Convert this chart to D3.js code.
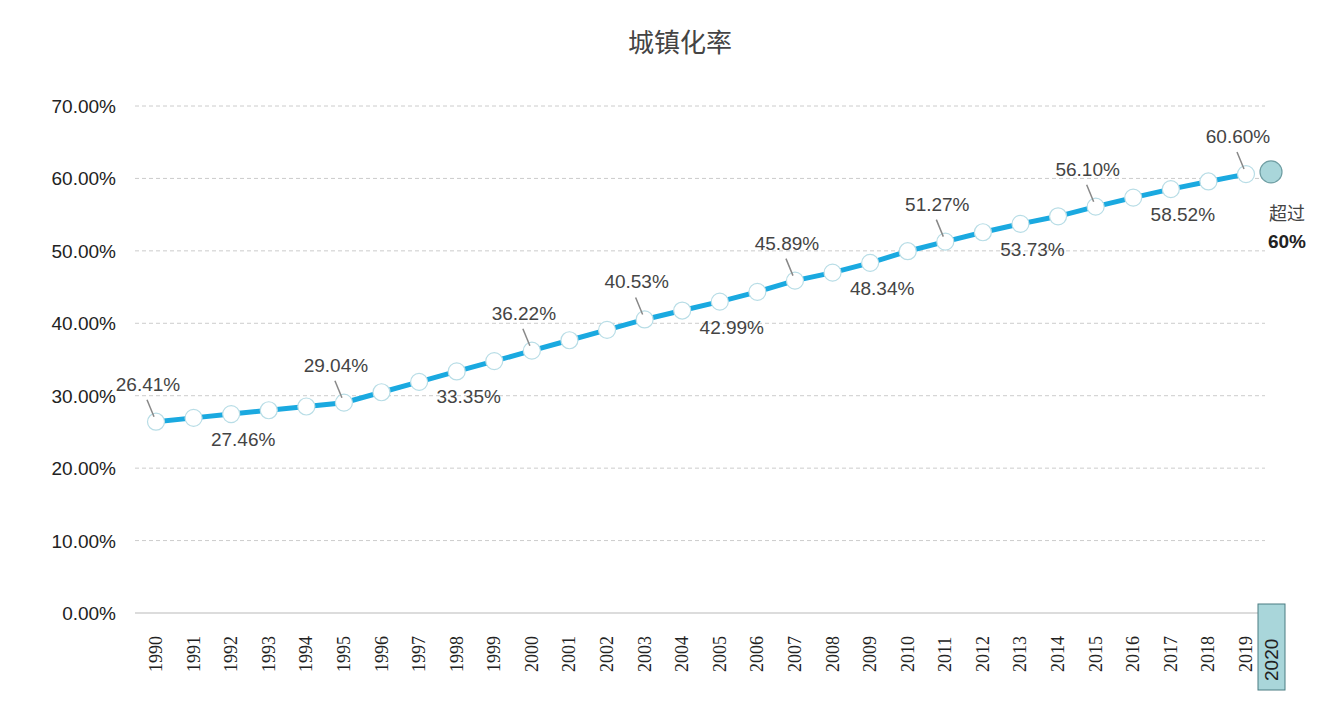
<!DOCTYPE html>
<html><head><meta charset="utf-8">
<script src="https://cdn.jsdelivr.net/npm/d3@7"></script>
<style>body{margin:0;background:#fff}</style>
</head><body><div id="chart"></div>
<script>
const years = d3.range(1990, 2020).map(String);
const rates = [26.41,26.94,27.46,27.99,28.51,29.04,30.48,31.91,33.35,34.78,36.22,37.66,39.09,40.53,41.76,42.99,44.34,45.89,46.99,48.34,49.95,51.27,52.57,53.73,54.77,56.10,57.35,58.52,59.58,60.60];
const year2020 = "2020";
const rate2020 = 60.9;
const yTicks = [0,10,20,30,40,50,60,70];
// labelled years: placement above (with leader) or below
const labelled = [["1990","up"],["1992","down"],["1995","up"],["1998","down"],["2000","up"],["2003","up"],["2005","down"],["2007","up"],["2009","down"],["2011","up"],["2013","down"],["2015","up"],["2017","down"],["2019","up"]];

const W = 1341, H = 720;
const svg = d3.select("#chart").append("svg").attr("width", W).attr("height", H)
  .style("font-family", "Arial, 'Liberation Sans', sans-serif");
const x = d3.scalePoint().domain(years).range([156, 1246]);
const x2020 = x("2019") + 25;
const y = d3.scaleLinear().domain([0, 70]).range([613, 106]);

svg.append("text").attr("x", 680).attr("y", 52).attr("text-anchor", "middle")
  .attr("font-size", 26).attr("fill", "#444").attr("font-family", "'Noto Sans CJK SC', sans-serif").text("城镇化率");

// grid
svg.append("g").selectAll("line").data(yTicks.filter(d => d > 0)).join("line")
  .attr("x1", 135).attr("x2", 1265).attr("y1", d => y(d)).attr("y2", d => y(d))
  .attr("stroke", "#ccc").attr("stroke-dasharray", "4,3");
svg.append("line").attr("x1", 135).attr("x2", 1265).attr("y1", y(0)).attr("y2", y(0)).attr("stroke", "#d0d0d0").attr("stroke-width", 1.5);
svg.append("g").selectAll("text").data(yTicks).join("text")
  .attr("x", 116).attr("y", d => y(d) + 7).attr("text-anchor", "end")
  .attr("font-size", 19).attr("fill", "#222").text(d => d.toFixed(2) + "%");

// x labels
svg.append("g").selectAll("text").data(years).join("text")
  .attr("transform", d => `translate(${x(d) + 6},${672}) rotate(-90)`)
  .attr("font-family", "'Liberation Serif', 'DejaVu Serif', serif").attr("font-size", 18).attr("fill", "#222").text(d => d);
svg.append("rect").attr("x", x2020 - 13).attr("y", 604).attr("width", 27).attr("height", 86)
  .attr("fill", "#a9d6da").attr("stroke", "#4a7d82");
svg.append("text").attr("transform", `translate(${x2020 + 7},${681}) rotate(-90)`)
  .attr("font-size", 19).attr("fill", "#222").text(year2020);

// line
const pts = rates.map((v, i) => [years[i], v]);
svg.append("path").datum(pts).attr("fill", "none").attr("stroke", "#1aa9e0").attr("stroke-width", 5)
  .attr("d", d3.line().x(d => x(d[0])).y(d => y(d[1])));
svg.append("g").selectAll("circle").data(pts).join("circle")
  .attr("cx", d => x(d[0])).attr("cy", d => y(d[1])).attr("r", 8.5)
  .attr("fill", "#fff").attr("stroke", "#b8dde6").attr("stroke-width", 1.2);
svg.append("circle").attr("cx", x2020).attr("cy", y(rate2020)).attr("r", 11)
  .attr("fill", "#a9d6da").attr("stroke", "#6f9ea3").attr("stroke-width", 1.2);
svg.append("text").attr("x", x2020 + 16).attr("y", 220).attr("text-anchor", "middle")
  .attr("font-family", "'Noto Sans CJK SC', sans-serif").attr("font-size", 18).attr("fill", "#444").text("超过");
svg.append("text").attr("x", x2020 + 16).attr("y", 248).attr("text-anchor", "middle")
  .attr("font-size", 19).attr("font-weight", "bold").attr("fill", "#222").text("60%");

// data labels
const lab = svg.append("g");
labelled.forEach(([yr, pos]) => {
  const v = rates[years.indexOf(yr)];
  const px = x(yr), py = y(v);
  if (pos === "up") {
    lab.append("line").attr("x1", px - 2).attr("y1", py - 5).attr("x2", px - 9).attr("y2", py - 22)
      .attr("stroke", "#888").attr("stroke-width", 1.5);
    lab.append("text").attr("x", px - 8).attr("y", py - 31).attr("text-anchor", "middle")
      .attr("font-size", 19).attr("fill", "#444").text(v.toFixed(2) + "%");
  } else {
    lab.append("text").attr("x", px + 12).attr("y", py + 32).attr("text-anchor", "middle")
      .attr("font-size", 19).attr("fill", "#444").text(v.toFixed(2) + "%");
  }
});
</script></body></html>
